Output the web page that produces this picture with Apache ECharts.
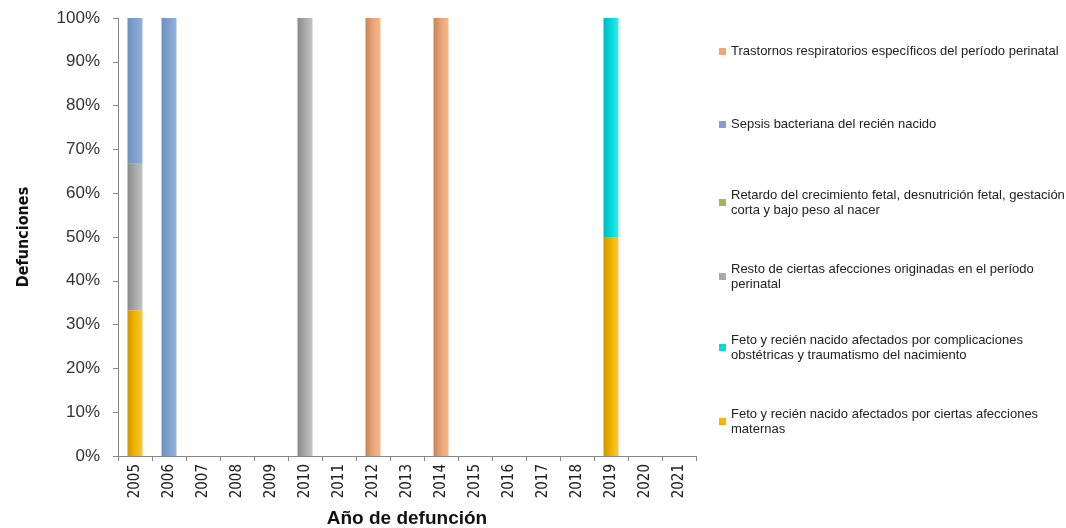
<!DOCTYPE html>
<html>
<head>
<meta charset="utf-8">
<script src="https://cdn.jsdelivr.net/npm/echarts@6/dist/echarts.min.js"></script>
<style>
html, body { margin: 0; padding: 0; background: #fff; }
#main { width: 1066px; height: 528px; }
</style>
</head>
<body>
<div id="main"></div>
<script>
"use strict"
// años de defunción
const years = ['2005','2006','2007','2008','2009','2010','2011','2012','2013',
    '2014','2015','2016','2017','2018','2019','2020','2021'];

// porcentajes por causa (apilados de abajo hacia arriba)
const maternas    = [33.3, 0, 0, 0, 0, 0, 0, 0, 0, 0, 0, 0, 0, 0, 50, 0, 0];
const obstetricas = [0, 0, 0, 0, 0, 0, 0, 0, 0, 0, 0, 0, 0, 0, 50, 0, 0];
const resto       = [33.4, 0, 0, 0, 0, 100, 0, 0, 0, 0, 0, 0, 0, 0, 0, 0, 0];
const retardo     = [0, 0, 0, 0, 0, 0, 0, 0, 0, 0, 0, 0, 0, 0, 0, 0, 0];
const sepsis      = [33.3, 100, 0, 0, 0, 0, 0, 0, 0, 0, 0, 0, 0, 0, 0, 0, 0];
const trastornos  = [0, 0, 0, 0, 0, 0, 0, 100, 0, 100, 0, 0, 0, 0, 0, 0, 0];

const names = [
    'Feto y recién nacido afectados por ciertas afecciones\nmaternas',
    'Feto y recién nacido afectados por complicaciones\nobstétricas y traumatismo del nacimiento',
    'Resto de ciertas afecciones originadas en el período\nperinatal',
    'Retardo del crecimiento fetal, desnutrición fetal, gestación\ncorta y bajo peso al nacer',
    'Sepsis bacteriana del recién nacido',
    'Trastornos respiratorios específicos del período perinatal'
];
const values = [maternas, obstetricas, resto, retardo, sepsis, trastornos];
// [izquierda, centro, derecha]
const shades = [
    ['#cf9500', '#f3b600', '#f7c840'],
    ['#00b8bc', '#00dcdc', '#40e8e8'],
    ['#8a8a8a', '#aaaaaa', '#c4c4c4'],
    ['#7f9a48', '#9bbb59', '#b5cf80'],
    ['#6d90be', '#80a2cf', '#93b2da'],
    ['#c2865a', '#eea676', '#f5b88c']
];
const legendTop = [413, 339, 268, 194, 123, 50];
const narrow = "'DejaVu Sans Condensed', 'Liberation Sans Narrow', 'Arial Narrow', sans-serif";

function grad(c) {
    return new echarts.graphic.LinearGradient(0, 0, 1, 0, [
        { offset: 0, color: c[0] },
        { offset: 0.55, color: c[1] },
        { offset: 1, color: c[2] }
    ]);
}

const chart = echarts.init(document.getElementById('main'), null, { renderer: 'canvas' });

var series = [];
var legends = [];
for (var i = 0; i < names.length; i++) {
    series.push({
        name: names[i],
        type: 'bar',
        stack: 'total',
        barWidth: 15,
        data: values[i],
        itemStyle: { color: grad(shades[i]) },
        emphasis: { disabled: true }
    });
    var twoLines = names[i].indexOf('\n') >= 0;
    legends.push({
        data: [{ name: names[i], itemStyle: { color: shades[i][1] } }],
        left: 714,
        top: legendTop[i] - (twoLines ? 19 : 11),
        itemWidth: 7,
        itemHeight: 7,
        itemGap: 0,
        icon: 'rect',
        selectedMode: false,
        textStyle: {
            fontFamily: "'Liberation Sans', Arial, sans-serif",
            fontSize: 13,
            color: '#222',
            lineHeight: 15,
            padding: twoLines ? [15, 0, 0, 0] : 0
        }
    });
}

var option = {
    animation: false,
    backgroundColor: '#fff',
    legend: legends,
    grid: { left: 118, right: 370, top: 18, bottom: 72, containLabel: false, outerBoundsMode: 'none' },
    xAxis: {
        type: 'category',
        data: years,
        name: 'Año de defunción',
        nameLocation: 'middle',
        nameGap: 53,
        nameTextStyle: { fontFamily: "'Liberation Sans', Arial, sans-serif", fontWeight: 'bold', fontSize: 19, color: '#111' },
        axisLine: { lineStyle: { color: '#888' } },
        axisTick: { show: true, length: 5, lineStyle: { color: '#888' } },
        axisLabel: {
            rotate: 90,
            margin: 8,
            interval: 0,
            fontFamily: narrow,
            fontSize: 15,
            color: '#222'
        }
    },
    yAxis: {
        type: 'value',
        min: 0,
        max: 100,
        interval: 10,
        name: 'Defunciones',
        nameLocation: 'middle',
        nameGap: 86,
        nameTextStyle: { fontFamily: narrow, fontWeight: 'bold', fontSize: 16, color: '#111' },
        axisLine: { show: true, lineStyle: { color: '#888' } },
        axisTick: { show: true, length: 5, lineStyle: { color: '#888' } },
        splitLine: { show: false },
        axisLabel: {
            formatter: '{value}%',
            margin: 18,
            fontFamily: "'Liberation Sans', Arial, sans-serif",
            fontSize: 17,
            color: '#333'
        }
    },
    series: series
};
chart.setOption(option);
</script>
</body>
</html>
